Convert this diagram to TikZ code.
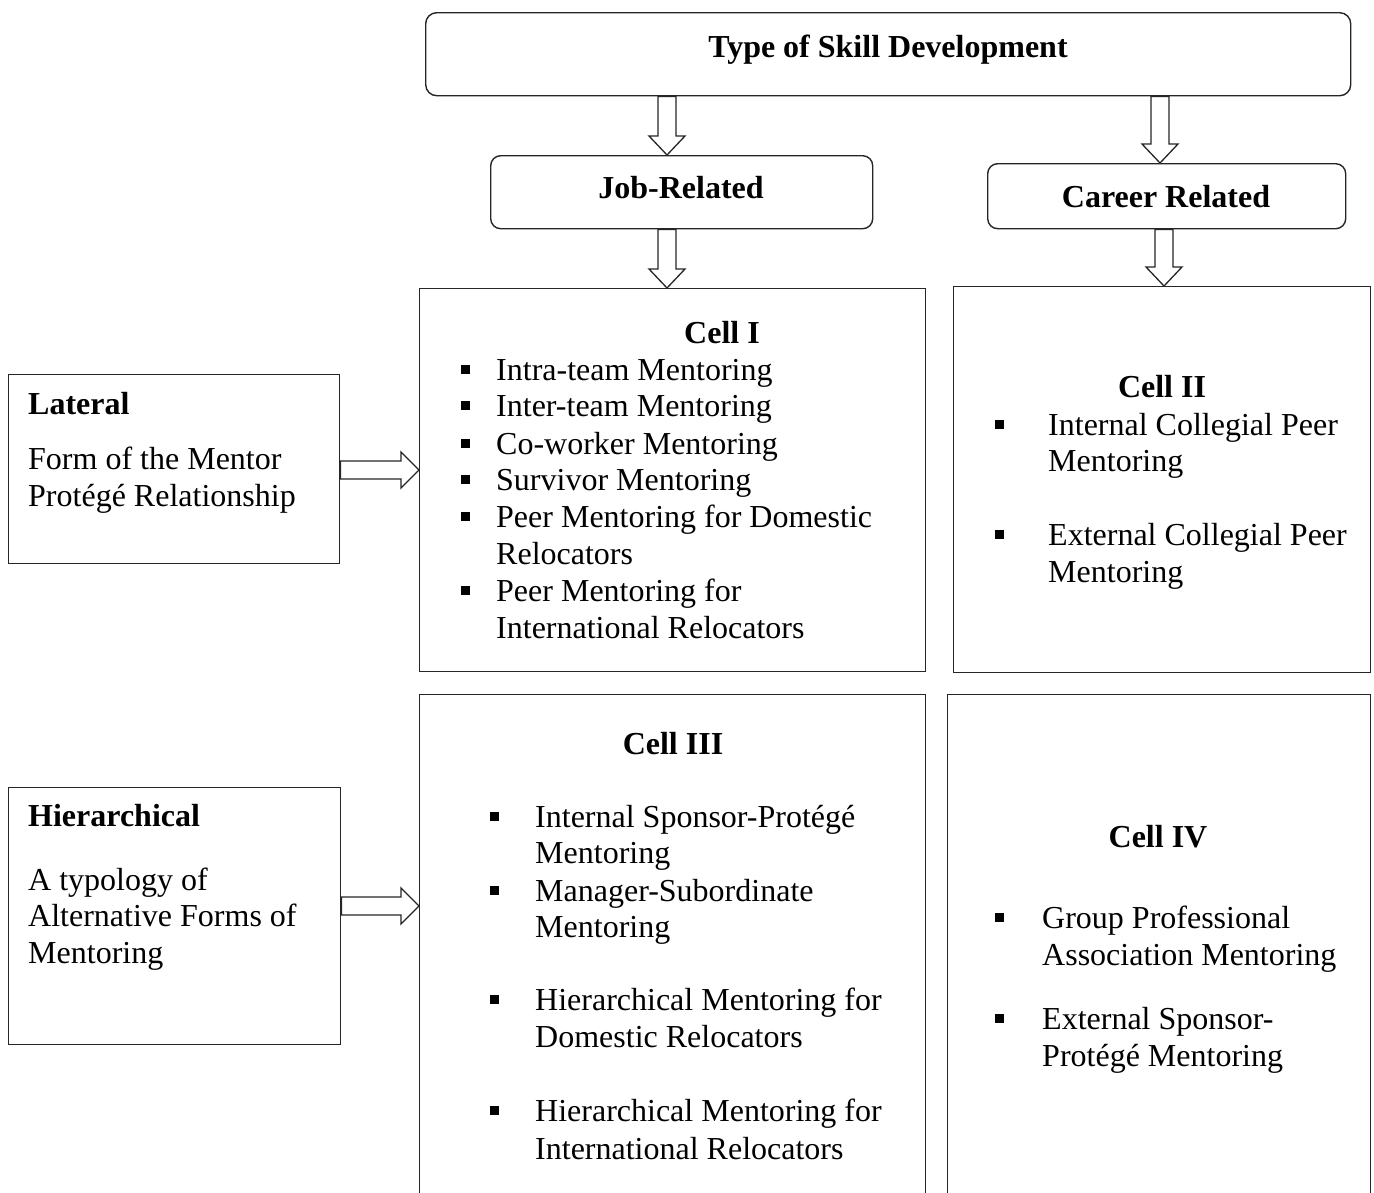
\documentclass[tikz,border=0pt]{standalone}
\usepackage{fontspec}
\setmainfont{Liberation Serif}
\usetikzlibrary{calc}
\tikzset{
  box/.style={draw=black!85, line width=1.4pt, inner sep=0pt, anchor=north west},
  rbox/.style={box, rounded corners=11pt},
  txt/.style={anchor=base west, inner sep=0pt, font=\fontsize{32}{37}\selectfont},
  bltxt/.style={anchor=base west, inner sep=0pt, font=\fontsize{32}{37}\selectfont\bfseries},
  ttl/.style={anchor=base, inner sep=0pt, font=\fontsize{32}{37}\selectfont\bfseries},
  bul/.style={fill=black, inner sep=0pt, minimum size=9pt, draw=none},
  blockarrow/.style={draw=black!85, line width=1.3pt, fill=white, line join=miter},
}
\newcommand\myvarrow[2]{\draw[blockarrow] let \p1=(#1), \p2=(#2) in
  (\x1-9pt,\y1) -- (\x1-9pt,\y2+19pt) -- (\x1-18pt,\y2+19pt) -- (\x1,\y2)
  -- (\x1+18pt,\y2+19pt) -- (\x1+9pt,\y2+19pt) -- (\x1+9pt,\y1) -- cycle;}
\newcommand\myharrow[2]{\draw[blockarrow] let \p1=(#1), \p2=(#2) in
  (\x1,\y1+9pt) -- (\x2-18pt,\y1+9pt) -- (\x2-18pt,\y1+18pt) -- (\x2,\y1)
  -- (\x2-18pt,\y1-18pt) -- (\x2-18pt,\y1-9pt) -- (\x1,\y1-9pt) -- cycle;}
\begin{document}
\begin{tikzpicture}[x=1pt,y=-1pt]
\useasboundingbox (0,0) rectangle (1374,1192);
\clip (0,0) rectangle (1374,1192);
\fill[white] (0,0) rectangle (1374,1192);

% boxes
\node[rbox, minimum width=925pt, minimum height=83pt] (top) at (425,12) {};
\node[rbox, rounded corners=10pt, minimum width=382pt, minimum height=73pt] (job) at (490,155) {};
\node[rbox, rounded corners=10pt, minimum width=358pt, minimum height=65pt] (car) at (987,163) {};
\node[box, minimum width=506pt, minimum height=383pt] (cell1) at (419,288) {};
\node[box, minimum width=417pt, minimum height=386pt] (cell2) at (953,286) {};
\node[box, minimum width=506pt, minimum height=530pt] (cell3) at (419,694) {};
\node[box, minimum width=423pt, minimum height=530pt] (cell4) at (947,694) {};
\node[box, minimum width=331pt, minimum height=189pt] (lat) at (8,374) {};
\node[box, minimum width=332pt, minimum height=257pt] (hier) at (8,787) {};

% arrows
\coordinate (ax1) at (667,0);
\coordinate (ax2) at (1160,0);
\coordinate (ax3) at (1164,0);
\coordinate (ay1) at (0,470);
\coordinate (ay2) at (0,906);
\myvarrow{ax1 |- top.south}{ax1 |- job.north}
\myvarrow{ax2 |- top.south}{ax2 |- car.north}
\myvarrow{ax1 |- job.south}{ax1 |- cell1.north}
\myvarrow{ax3 |- car.south}{ax3 |- cell2.north}
\myharrow{lat.east |- ay1}{cell1.west |- ay1}
\myharrow{hier.east |- ay2}{cell3.west |- ay2}

% top titles
\node[ttl] (ttop) at (888,57) {Type of Skill Development};
\node[ttl] (tjob) at (681,198) {Job-Related};
\node[ttl] (tcar) at (1166,207) {Career Related};

% Lateral
\node[bltxt] (l0) at (28,414) {Lateral};
\node[txt] (l1) at (28,469) {Form of the Mentor};
\node[txt] (l2) at (28,506) {Protégé Relationship};

% Hierarchical
\node[bltxt] (h0) at (28,826) {Hierarchical};
\node[txt] (h1) at (28,890) {A typology of};
\node[txt] (h2) at (28,926) {Alternative Forms of};
\node[txt] (h3) at (28,963) {Mentoring};

% Cell I
\node[ttl] (c1t) at (722,343) {Cell I};
\node[txt] (c1a) at (496,380) {Intra-team Mentoring};
\node[txt] (c1b) at (496,416) {Inter-team Mentoring};
\node[txt] (c1c) at (496,454) {Co-worker Mentoring};
\node[txt] (c1d) at (496,490) {Survivor Mentoring};
\node[txt] (c1e) at (496,527) {Peer Mentoring for Domestic};
\node[txt] (c1f) at (496,564) {Relocators};
\node[txt] (c1g) at (496,601) {Peer Mentoring for};
\node[txt] (c1h) at (496,638) {International Relocators};
\node[bul] (b1a) at (465,369) {};
\node[bul] (b1b) at (465,405) {};
\node[bul] (b1c) at (465,443) {};
\node[bul] (b1d) at (465,479) {};
\node[bul] (b1e) at (465,516) {};
\node[bul] (b1g) at (465,590) {};

% Cell II
\node[ttl] (c2t) at (1162,397) {Cell II};
\node[txt] (c2a) at (1048,435) {Internal Collegial Peer};
\node[txt] (c2b) at (1048,471) {Mentoring};
\node[txt] (c2c) at (1048,545) {External Collegial Peer};
\node[txt] (c2d) at (1048,582) {Mentoring};
\node[bul] (b2a) at (999,424) {};
\node[bul] (b2c) at (999,534) {};

% Cell III
\node[ttl] (c3t) at (673,754) {Cell III};
\node[txt] (c3a) at (535,827) {Internal Sponsor-Protégé};
\node[txt] (c3b) at (535,863) {Mentoring};
\node[txt] (c3c) at (535,901) {Manager-Subordinate};
\node[txt] (c3d) at (535,937) {Mentoring};
\node[txt] (c3e) at (535,1010) {Hierarchical Mentoring for};
\node[txt] (c3f) at (535,1047) {Domestic Relocators};
\node[txt] (c3g) at (535,1121) {Hierarchical Mentoring for};
\node[txt] (c3h) at (535,1159) {International Relocators};
\node[bul] (b3a) at (494,816) {};
\node[bul] (b3c) at (494,890) {};
\node[bul] (b3e) at (494,999) {};
\node[bul] (b3g) at (494,1110) {};

% Cell IV
\node[ttl] (c4t) at (1158,847) {Cell IV};
\node[txt] (c4a) at (1042,928) {Group Professional};
\node[txt] (c4b) at (1042,965) {Association Mentoring};
\node[txt] (c4c) at (1042,1029) {External Sponsor-};
\node[txt] (c4d) at (1042,1066) {Protégé Mentoring};
\node[bul] (b4a) at (999,917) {};
\node[bul] (b4c) at (999,1018) {};
\end{tikzpicture}
\end{document}
